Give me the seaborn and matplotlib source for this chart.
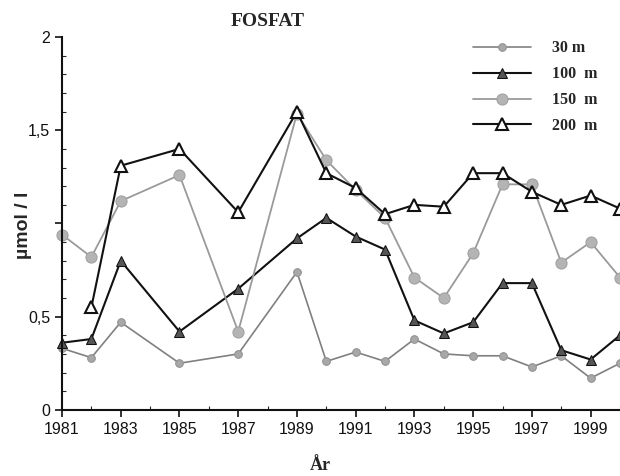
import numpy as np
import seaborn as sns
import matplotlib.pyplot as plt
from matplotlib.ticker import MultipleLocator

# data (1984, 1986, 1988 missing)
years = [1981, 1982, 1983, 1985, 1987, 1989, 1990, 1991, 1992,
         1993, 1994, 1995, 1996, 1997, 1998, 1999, 2000]
m30 = [0.33, 0.28, 0.47, 0.25, 0.30, 0.74, 0.26, 0.31, 0.26,
       0.38, 0.30, 0.29, 0.29, 0.23, 0.29, 0.17, 0.25]
m100 = [0.36, 0.38, 0.80, 0.42, 0.65, 0.92, 1.03, 0.93, 0.86,
        0.48, 0.41, 0.47, 0.68, 0.68, 0.32, 0.27, 0.40]
m150 = [0.94, 0.82, 1.12, 1.26, 0.42, 1.59, 1.34, 1.18, 1.03,
        0.71, 0.60, 0.84, 1.21, 1.21, 0.79, 0.90, 0.71]
years200 = years[1:]
m200 = [0.55, 1.31, 1.40, 1.06, 1.60, 1.27, 1.19, 1.05,
        1.10, 1.09, 1.27, 1.27, 1.17, 1.10, 1.15, 1.08]

sns.set_style('ticks')
plt.rcParams['font.family'] = ['Liberation Sans', 'DejaVu Sans']

fig = plt.figure(figsize=(6.2, 4.76), dpi=100)
ax = fig.add_axes([0.1, 0.139, 0.9, 0.783])

sns.lineplot(x=years, y=m30, ax=ax, color='#808080', lw=1.2, marker='o',
             markersize=5.5, markerfacecolor='#a8a8a8', markeredgecolor='#909090',
             label='30 m', clip_on=False)
sns.lineplot(x=years, y=m100, ax=ax, color='#111111', lw=1.5, marker='^',
             markersize=7, markerfacecolor='#555555', markeredgecolor='#111111',
             label='100  m', clip_on=False)
sns.lineplot(x=years, y=m150, ax=ax, color='#9a9a9a', lw=1.3, marker='o',
             markersize=8, markerfacecolor='#b4b4b4', markeredgecolor='#a0a0a0',
             label='150  m', clip_on=False)
sns.lineplot(x=years200, y=m200, ax=ax, color='#111111', lw=1.5, marker='^',
             markersize=8.5, markerfacecolor='white', markeredgecolor='#111111',
             markeredgewidth=1.5, label='200  m', clip_on=False)

ax.set_xlim(1981, 2000)
ax.set_ylim(0, 2)
ax.set_xticks(range(1981, 2000, 2))
ax.xaxis.set_minor_locator(MultipleLocator(1))
ax.set_yticks([0, 0.5, 1, 1.5, 2])
ax.set_yticklabels(['0', '0,5', '', '1,5', '2'])
ax.yaxis.set_minor_locator(MultipleLocator(0.1))
ax.tick_params(which='major', direction='out', length=5, width=1.2,
               labelsize=11.5, colors='#111111')
ax.tick_params(which='minor', direction='in', length=3, width=0.8)
sns.despine(ax=ax)
for s in ['left', 'bottom']:
    ax.spines[s].set_linewidth(1.5)
    ax.spines[s].set_color('#111111')
ax.set_xlabel('')
ax.set_ylabel('')

serif = ['Liberation Serif', 'DejaVu Serif']
fig.text(268 / 620, 1 - 21 / 476, 'FOSFAT', family=serif, weight='bold',
         fontsize=14, ha='center', va='center')
fig.text(320 / 620, 1 - 465 / 476, 'År', family=serif, weight='bold',
         fontsize=13, ha='center', va='center')
fig.text(24 / 620, 1 - 225 / 476, 'µmol / l', weight='bold', fontsize=14,
         rotation=90, ha='center', va='center')

ax.legend(loc='upper right', bbox_to_anchor=(0.985, 1.03), frameon=False,
          handlelength=3.6, labelspacing=0.62, handletextpad=1.3,
          prop={'family': serif, 'weight': 'bold', 'size': 11.5})

fig.savefig('out.png', dpi=100)
